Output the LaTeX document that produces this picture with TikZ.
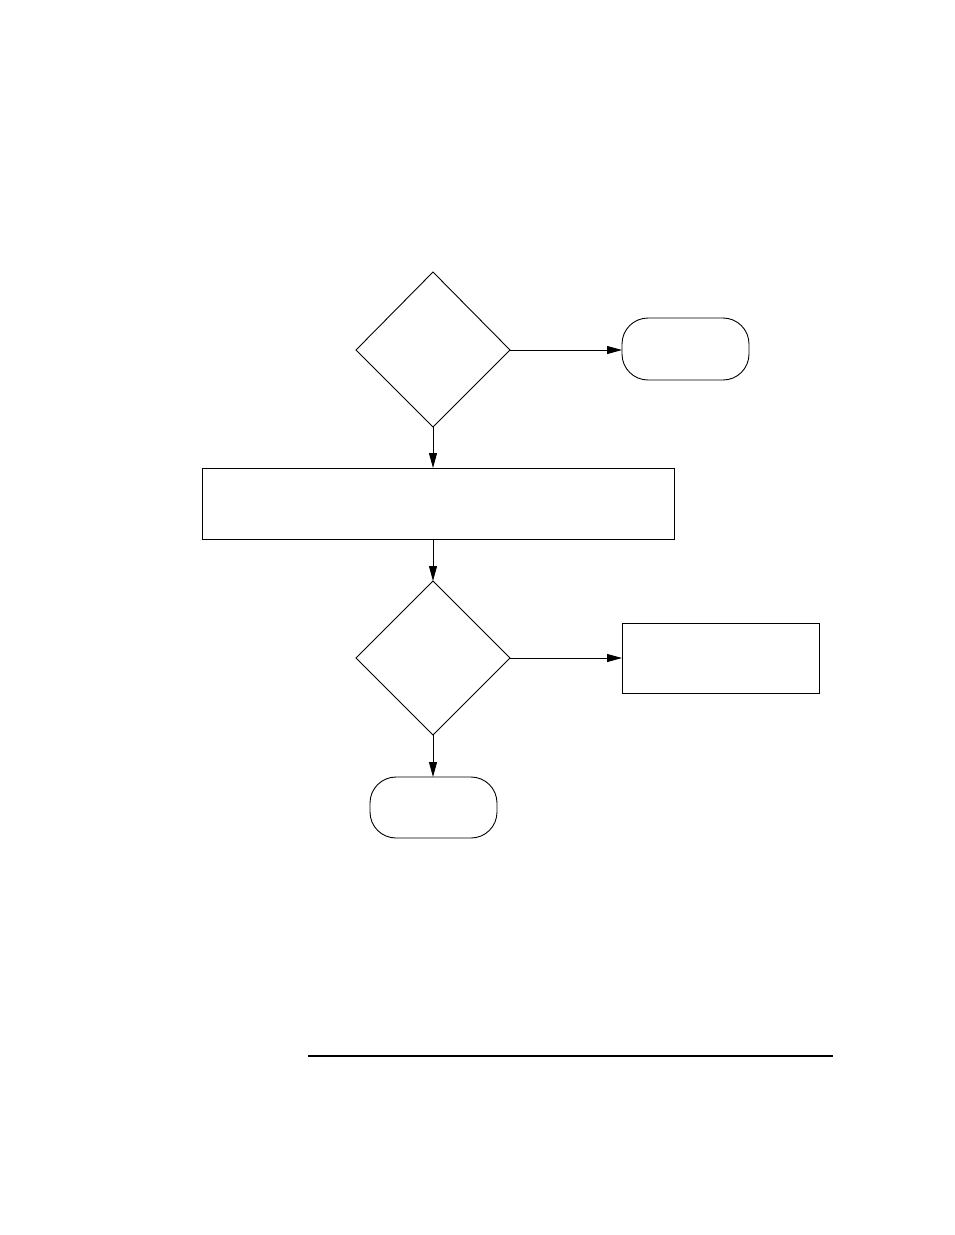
\documentclass[tikz,border=0pt]{standalone}
\usetikzlibrary{arrows.meta}
\begin{document}
\begin{tikzpicture}[x=1pt,y=-1pt,line width=0.9pt,
  arr/.style={-{Triangle[length=15pt,width=8pt]}},
  term/.style={draw,rounded corners=26pt},
  box/.style={draw}]
\useasboundingbox (0,0) rectangle (954,1235);
\draw (433,272) coordinate (d1t) -- (510,350) coordinate (d1r) -- (433,427) coordinate (d1b) -- (356,350) -- cycle;
\draw[term] (622,318) rectangle (749,380);
\coordinate (t1l) at (622,350);
\draw[arr] (d1r) -- (t1l);
\draw[box] (202,468) rectangle (674,539);
\coordinate (b1t) at (433,468); \coordinate (b1b) at (433,539);
\draw[arr] (d1b) -- (b1t);
\draw (433,581) coordinate (d2t) -- (510,658) coordinate (d2r) -- (433,735) coordinate (d2b) -- (356,658) -- cycle;
\draw[arr] (b1b) -- (d2t);
\draw[box] (622,623) rectangle (819,693);
\coordinate (b2l) at (622,658);
\draw[arr] (d2r) -- (b2l);
\draw[term] (370,777) rectangle (497,838);
\coordinate (t2t) at (433,777);
\draw[arr] (d2b) -- (t2t);
\draw[line width=2pt] (308,1056) coordinate (ra) -- (833,1056) coordinate (rb);
\end{tikzpicture}
\end{document}
